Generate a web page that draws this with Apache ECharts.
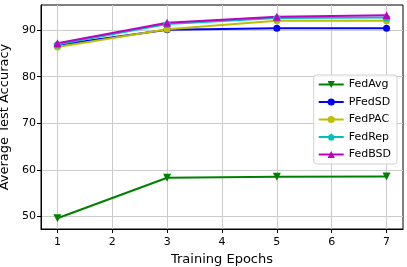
<!DOCTYPE html>
<html><head><meta charset="utf-8">
<script src="https://cdn.jsdelivr.net/npm/echarts@6/dist/echarts.min.js"></script>
<style>html,body{margin:0;padding:0;background:#fff}#c{width:407px;height:267px}</style>
</head><body><div id="c"></div>
<script>
const epochs = [1, 3, 5, 7];
const xTicks = [1, 2, 3, 4, 5, 6, 7];
const yTicks = [50, 60, 70, 80, 90];
const fedAvg = [49.6, 58.3, 58.5, 58.6];
const pFedSD = [86.8, 90.1, 90.4, 90.4];
const fedPAC = [86.4, 90.2, 92.0, 92.0];
const fedRep = [86.9, 91.3, 92.6, 92.7];
const fedBSD = [87.2, 91.6, 92.9, 93.2];

const pentagon = 'path://M0,-1 L0.951,-0.309 L0.588,0.809 L-0.588,0.809 L-0.951,-0.309 Z';
const font = 'DejaVu Sans';
function mk(name, data, color, symbol, rot, size) {
  return {
    name, type: 'line', data: epochs.map((e, i) => [e, data[i]]),
    symbol, symbolSize: size, symbolRotate: rot || 0,
    lineStyle: { color, width: 2 }, itemStyle: { color },
    emphasis: { disabled: true }, animation: false
  };
}
const chart = echarts.init(document.getElementById('c'), null, { renderer: 'canvas' });
chart.setOption({
  animation: false,
  grid: { left: 41, top: 5, right: 4, bottom: 38, containLabel: false, outerBoundsMode: 'none',
    show: true, borderColor: '#000', borderWidth: 1, backgroundColor: 'transparent' },
  xAxis: {
    type: 'value', min: 0.7, max: 7.3,
    name: 'Training Epochs', nameLocation: 'middle', nameGap: 23,
    nameTextStyle: { fontFamily: font, fontSize: 13, color: '#000' },
    axisLine: { show: true, lineStyle: { color: '#000', width: 1 } },
    axisTick: { show: true, length: 4, lineStyle: { color: '#000' }, customValues: xTicks },
    axisLabel: { fontFamily: font, fontSize: 11, color: '#000', margin: 8, customValues: xTicks },
    splitLine: { show: true, lineStyle: { color: '#cccccc', width: 1 } }
  },
  yAxis: {
    type: 'value', min: 47.3, max: 95.4,
    name: 'Average Test Accuracy', nameLocation: 'middle', nameGap: 22,
    nameTextStyle: { fontFamily: font, fontSize: 13, color: '#000' },
    axisLine: { show: true, lineStyle: { color: '#000', width: 1 } },
    axisTick: { show: true, length: 4, lineStyle: { color: '#000' }, customValues: yTicks },
    axisLabel: { fontFamily: font, fontSize: 11, color: '#000', margin: 5, customValues: yTicks },
    splitLine: { show: true, lineStyle: { color: '#cccccc', width: 1 } }
  },
  legend: {
    right: 10, top: 75, orient: 'vertical',
    itemWidth: 25, itemHeight: 9, itemGap: 6.5,
    padding: [4, 6, 4, 4],
    backgroundColor: 'rgba(255,255,255,0.8)', borderColor: '#d0d0d0', borderWidth: 1, borderRadius: 3,
    textStyle: { fontFamily: font, fontSize: 11, color: '#000' },
    data: ['FedAvg', 'PFedSD', 'FedPAC', 'FedRep', 'FedBSD']
  },
  series: [
    mk('FedAvg', fedAvg, '#008000', 'triangle', 180, 8),
    mk('PFedSD', pFedSD, '#0000ff', 'circle', 0, 7),
    mk('FedPAC', fedPAC, '#bfbf00', 'circle', 0, 7),
    mk('FedRep', fedRep, '#00bfbf', pentagon, 0, 8),
    mk('FedBSD', fedBSD, '#bf00bf', 'triangle', 0, 8)
  ]
});
</script></body></html>
